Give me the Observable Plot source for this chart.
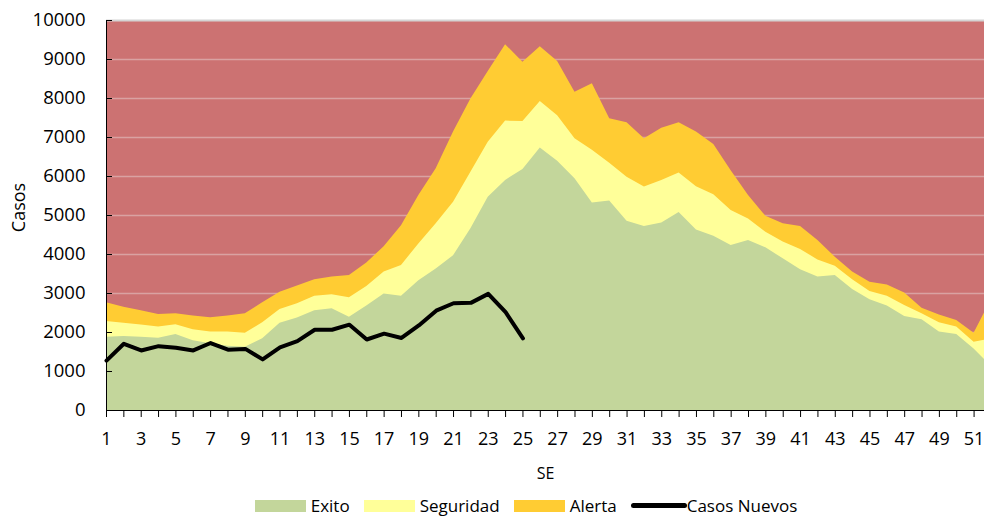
<!DOCTYPE html>
<html>
<head>
<meta charset="utf-8">
<script src="https://cdn.jsdelivr.net/npm/d3@7"></script>
<script src="https://cdn.jsdelivr.net/npm/@observablehq/plot@0.6"></script>
<style>
  body { margin: 0; background: white; font-family: 'Open Sans', sans-serif; }
  #chart svg { display: block; }
  #legend { display: flex; justify-content: center; align-items: center; height: 23px; padding-left: 82px; font-size: 17px; color: #000; }
  .sw { display: inline-block; width: 51px; height: 12px; }
  .lbl { margin-left: 5px; margin-right: 14px; }
  .ln { display: inline-block; width: 56px; height: 5px; background: #000; border-radius: 3px; }
</style>
</head>
<body>
<div id="chart"></div>
<div id="legend"></div>
<script>
const weeks = d3.range(1, 53);
const exito = [1880,1900,1880,1850,1950,1790,1710,1650,1620,1840,2240,2370,2560,2610,2390,2680,2990,2930,3330,3630,3970,4660,5470,5900,6180,6730,6390,5940,5320,5370,4850,4720,4810,5080,4630,4470,4230,4360,4170,3890,3610,3420,3460,3100,2840,2680,2410,2330,2010,1950,1580,1130];
const seguridad = [2280,2240,2190,2140,2200,2070,2010,2010,1980,2250,2590,2740,2930,2970,2890,3180,3550,3720,4270,4790,5340,6110,6880,7420,7410,7920,7560,6970,6670,6340,5980,5730,5900,6090,5740,5530,5130,4910,4570,4320,4130,3860,3700,3350,3050,2930,2690,2480,2250,2140,1750,1840];
const alerta = [2760,2650,2560,2460,2480,2420,2380,2420,2480,2760,3030,3190,3350,3420,3460,3780,4200,4740,5510,6200,7140,7990,8690,9380,8930,9330,8950,8160,8380,7480,7380,6970,7240,7380,7140,6820,6150,5510,4980,4790,4720,4360,3930,3550,3290,3220,3010,2620,2450,2310,1980,2850];
const casosNuevos = [1280,1710,1540,1650,1610,1540,1730,1560,1580,1310,1620,1780,2070,2070,2200,1820,1970,1860,2180,2560,2750,2760,2990,2520,1850];
const yTicks = d3.range(0, 10001, 1000);
const xTicks = d3.range(1, 52);
const xLabels = d3.range(1, 52, 2);

const colors = { epidemia: "#cc7272", exito: "#c3d69b", seguridad: "#ffff99", alerta: "#ffcc33", casos: "#000000" };

const table = weeks.map((w, i) => ({ week: w, exito: exito[i], seguridad: seguridad[i], alerta: alerta[i] }));
const casosTable = casosNuevos.map((v, i) => ({ week: weeks[i], casos: v }));

const chart = Plot.plot({
  width: 984,
  height: 494,
  marginLeft: 106,
  marginRight: 0,
  marginTop: 20,
  marginBottom: 84,
  style: { fontFamily: "'Open Sans', sans-serif", fontSize: "18px", background: "white", color: "black" },
  x: { domain: [1, 51.6], axis: null },
  y: { domain: [0, 10000], axis: null },
  marks: [
    Plot.frame({ fill: colors.epidemia, stroke: null }),
    Plot.ruleY(yTicks.filter(d => d > 0 && d < 10000), { stroke: "#d9a2a2", strokeWidth: 1.5 }),
    Plot.ruleY([10000], { stroke: "#d4d4d4", strokeWidth: 2 }),
    Plot.areaY(table, { x: "week", y: "alerta", fill: colors.alerta, clip: true }),
    Plot.areaY(table, { x: "week", y: "seguridad", fill: colors.seguridad, clip: true }),
    Plot.areaY(table, { x: "week", y: "exito", fill: colors.exito, clip: true }),
    Plot.line(casosTable, { x: "week", y: "casos", stroke: colors.casos, strokeWidth: 4, strokeLinejoin: "round" }),
    Plot.ruleX([1], { stroke: "black" }),
    Plot.ruleY([0], { stroke: "black" }),
    Plot.axisY({ ticks: yTicks, tickSize: -6, tickPadding: 27, tickFormat: d => String(d), label: null, stroke: "black", fontSize: "18.5px" }),
    Plot.axisX({ ticks: xTicks, tickSize: 7, tickFormat: () => "", label: null, stroke: "black" }),
    Plot.axisX({ ticks: xLabels, tickSize: 0, tickPadding: 22, tickFormat: d => String(d), label: null, fontSize: "18px" }),
    Plot.text(["Casos"], { frameAnchor: "left", textAnchor: "middle", dx: -87, dy: -8, rotate: -90, fontSize: "18px", text: d => d }),
    Plot.text(["SE"], { frameAnchor: "bottom", dy: 68, fontSize: "16px", text: d => d })
  ]
});
document.getElementById("chart").appendChild(chart);

const legendItems = [
  { name: "Exito", color: colors.exito, type: "area" },
  { name: "Seguridad", color: colors.seguridad, type: "area" },
  { name: "Alerta", color: colors.alerta, type: "area" },
  { name: "Casos Nuevos", color: colors.casos, type: "line" }
];
const legend = document.getElementById("legend");
legendItems.forEach(it => {
  const sw = document.createElement("span");
  sw.className = it.type === "line" ? "ln" : "sw";
  sw.style.background = it.color;
  const lb = document.createElement("span");
  lb.className = "lbl";
  if (it.type === "line") lb.style.marginLeft = "0px";
  lb.textContent = it.name;
  legend.appendChild(sw);
  legend.appendChild(lb);
});
</script>
</body>
</html>
